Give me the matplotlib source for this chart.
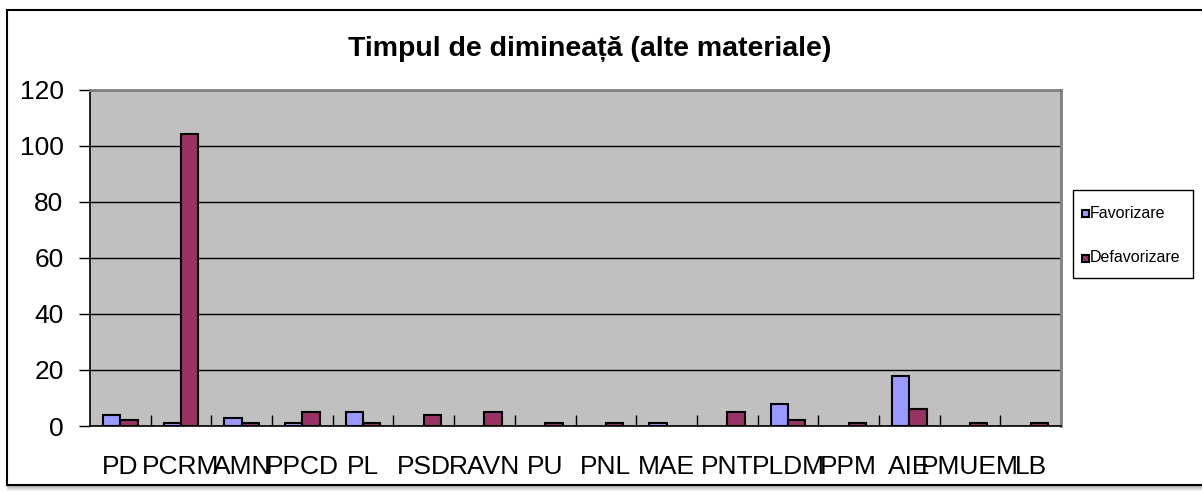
import matplotlib

matplotlib.use("Agg")
import matplotlib.pyplot as plt
import numpy as np
from matplotlib.patches import Rectangle

plt.rcParams["font.family"] = ["Liberation Sans", "DejaVu Sans"]

# Minutes per party, morning news slot (other materials)
parties = ["PD", "PCRM", "AMN", "PPCD", "PL", "PSD", "RAVN", "PU",
           "PNL", "MAE", "PNT", "PLDM", "PPM", "AIE", "PMUEM", "LB"]
favorizare = [4, 1, 3, 1, 5, 0, 0, 0, 0, 1, 0, 8, 0, 18, 0, 0]
defavorizare = [2, 104, 1, 5, 1, 4, 5, 1, 1, 0, 5, 2, 1, 6, 1, 1]
series_names = ["Favorizare", "Defavorizare"]
series_colors = ["#9999FF", "#993366"]

W, H = 1202, 491
fig = plt.figure(figsize=(W / 100, H / 100), dpi=100)

# chart frame with a soft shadow along the bottom (pixel coordinates)
frame_ax = fig.add_axes([0, 0, 1, 1])
frame_ax.set_xlim(0, W)
frame_ax.set_ylim(H, 0)
frame_ax.axis("off")
for i, a in enumerate(np.linspace(0.35, 0.05, 6)):
    frame_ax.add_patch(Rectangle((7, 485 + i), W, 1, color="black", alpha=a, lw=0))
frame_ax.add_patch(Rectangle((7, 10), W + 10, 475, facecolor="white",
                             edgecolor="black", lw=1.5))

ax = fig.add_axes([90 / W, (H - 426) / H, 971 / W, 336.5 / H])
ax.set_facecolor("#C0C0C0")

x = np.arange(len(parties))
bw = 0.286


def edge_widths(vals):
    # empty bars get no outline at all
    return [1.5 if v else 0 for v in vals]


ax.bar(x - bw / 2, favorizare, bw, color=series_colors[0], edgecolor="black",
       linewidth=edge_widths(favorizare), zorder=3)
ax.bar(x + bw / 2, defavorizare, bw, color=series_colors[1], edgecolor="black",
       linewidth=edge_widths(defavorizare), zorder=3)

ax.set_xlim(-0.5, len(parties) - 0.5)
ax.set_ylim(0, 120)
ax.set_yticks(np.arange(0, 121, 20))
ax.yaxis.grid(True, color="black", lw=1)
ax.set_axisbelow(True)

ax.set_xticks(x)
ax.set_xticklabels(parties)
ax.set_xticks(np.arange(0.5, len(parties) - 1, 1), minor=True)
ax.tick_params(axis="x", which="major", length=0, labelsize=19, pad=21)
ax.tick_params(axis="x", which="minor", direction="in", length=8, width=1)
ax.tick_params(axis="y", direction="out", length=8, width=1, labelsize=19, pad=11)

for side in ("top", "right"):
    ax.spines[side].set_color("#808080")
    ax.spines[side].set_linewidth(2)
ax.spines["left"].set_linewidth(1.2)
ax.spines["bottom"].set_linewidth(1.2)

fig.text(590 / W, 1 - 49 / H, "Timpul de dimineață (alte materiale)",
         ha="center", va="center", fontsize=20.5, fontweight="bold")

# legend box drawn by hand so the spacing can be set freely
frame_ax.add_patch(Rectangle((1073, 190), 120, 88, facecolor="white",
                             edgecolor="black", lw=1, zorder=5))
for name, color, yc in zip(series_names, series_colors, (213, 258)):
    frame_ax.add_patch(Rectangle((1082, yc - 3.5), 7, 7, facecolor=color,
                                 edgecolor="black", lw=1.5, zorder=6))
    frame_ax.text(1090, yc, name, ha="left", va="center", fontsize=11.5,
                  zorder=6)

fig.savefig("out.png", dpi=100)
